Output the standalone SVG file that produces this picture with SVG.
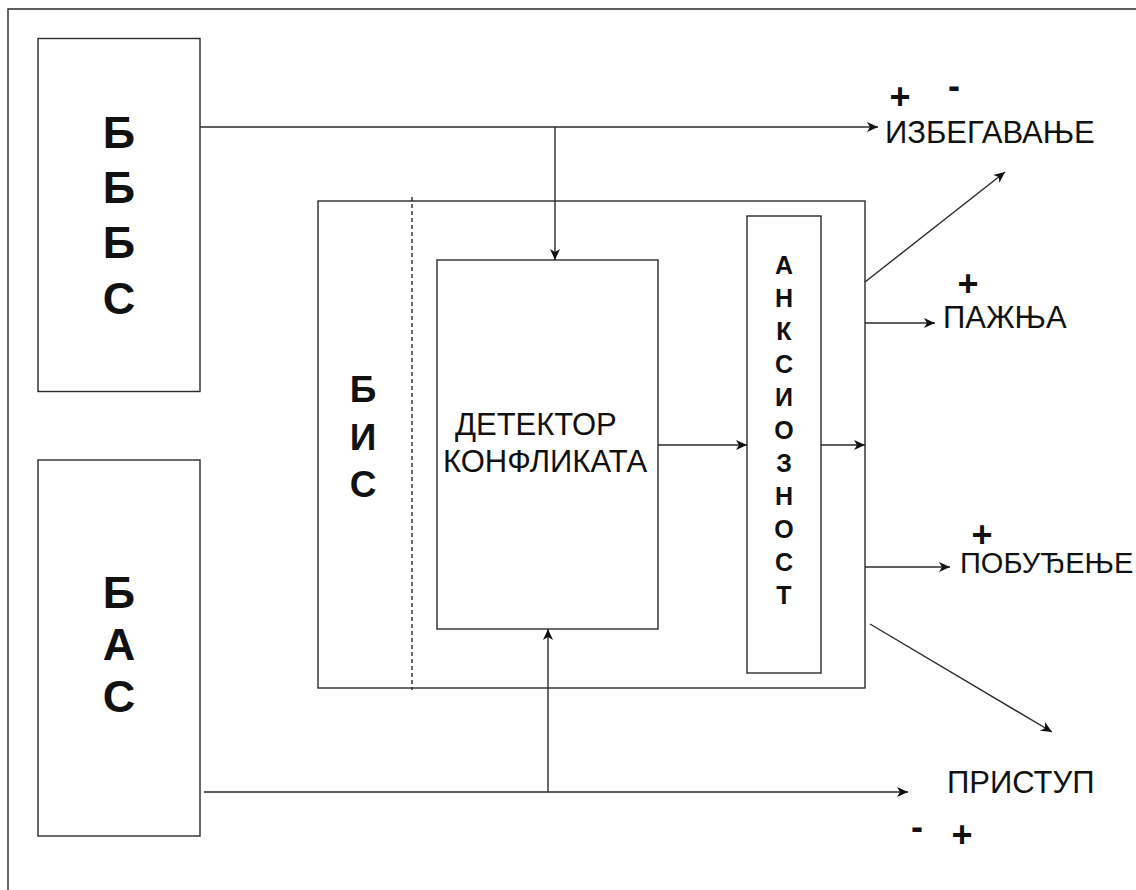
<svg xmlns="http://www.w3.org/2000/svg" width="1136" height="890" viewBox="0 0 1136 890">
<style>
.box{fill:none;stroke:#2a2a2a;stroke-width:1.4}
.ln{fill:none;stroke:#2a2a2a;stroke-width:1.4}
.arr{marker-end:url(#ah)}
.big{font-family:"Liberation Sans",Arial,sans-serif;font-weight:bold;font-size:45px;fill:#111;text-anchor:middle}
.mid{font-family:"Liberation Sans",Arial,sans-serif;font-weight:bold;font-size:37px;fill:#111;text-anchor:middle}
.vt{font-family:"Liberation Sans",Arial,sans-serif;font-weight:bold;font-size:25px;fill:#111;text-anchor:middle}
.lbl{font-family:"Liberation Sans",Arial,sans-serif;font-size:31px;fill:#111}
.det{font-family:"Liberation Sans",Arial,sans-serif;font-size:31px;fill:#111}
.sg{font-family:"Liberation Sans",Arial,sans-serif;font-weight:bold;font-size:36px;fill:#111;text-anchor:middle}
</style>
<defs>
<marker id="ah" markerWidth="12" markerHeight="10" refX="11" refY="5" orient="auto" markerUnits="userSpaceOnUse">
<path d="M0,0 L11,5 L0,10 L3,5 Z" fill="#111"/>
</marker>
</defs>
<rect width="1136" height="890" fill="#fff"/>
<g id="frame"><path class="ln" d="M8,900 L8,9 L1140,9"/></g>
<g id="bbs">
<rect class="box" x="38" y="38.5" width="162" height="353"/>
<text class="big" x="119" y="148">Б</text>
<text class="big" x="119" y="203">Б</text>
<text class="big" x="119" y="258">Б</text>
<text class="big" x="119" y="314">С</text>
</g>
<g id="bas">
<rect class="box" x="38" y="460" width="162" height="376"/>
<text class="big" x="119" y="608">Б</text>
<text class="big" x="119" y="660">А</text>
<text class="big" x="119" y="712">С</text>
</g>
<g id="bis">
<rect class="box" x="318" y="201" width="547" height="487"/>
<line class="ln" x1="412" y1="197" x2="412" y2="690" stroke-dasharray="4,3"/>
<text class="mid" x="363" y="402">Б</text>
<text class="mid" x="363" y="450">И</text>
<text class="mid" x="363" y="497">С</text>
</g>
<g id="detector">
<rect class="box" x="437" y="260" width="221" height="369"/>
<text class="det" x="455" y="435">ДЕТЕКТОР</text>
<text class="det" x="443" y="472">КОНФЛИКАТА</text>
</g>
<g id="anxiety">
<rect class="box" x="747" y="216" width="74" height="457"/>
<text class="vt" x="784" y="274">А</text>
<text class="vt" x="784" y="307">Н</text>
<text class="vt" x="784" y="340">К</text>
<text class="vt" x="784" y="373">С</text>
<text class="vt" x="784" y="406">И</text>
<text class="vt" x="784" y="439">О</text>
<text class="vt" x="784" y="472">З</text>
<text class="vt" x="784" y="505">Н</text>
<text class="vt" x="784" y="538">О</text>
<text class="vt" x="784" y="571">С</text>
<text class="vt" x="784" y="604">Т</text>
</g>
<g id="labels">
<text class="lbl" x="885" y="143">ИЗБЕГАВАЊЕ</text>
<text class="sg" x="900" y="109">+</text>
<text class="sg" x="954" y="98">-</text>
<text class="lbl" x="943" y="328">ПАЖЊА</text>
<text class="sg" x="968" y="296">+</text>
<text class="lbl" x="960" y="573" style="font-size:29px">ПОБУЂЕЊЕ</text>
<text class="sg" x="982" y="547">+</text>
<text class="lbl" x="947" y="793">ПРИСТУП</text>
<text class="sg" x="917" y="839">-</text>
<text class="sg" x="962" y="847">+</text>
</g>
<g id="connectors">
<line class="ln arr" x1="200" y1="127" x2="878" y2="127"/>
<line class="ln arr" x1="555" y1="127" x2="555" y2="260"/>
<line class="ln arr" x1="204" y1="792" x2="908" y2="792"/>
<line class="ln arr" x1="548" y1="792" x2="548" y2="629"/>
<line class="ln arr" x1="658" y1="445" x2="747" y2="445"/>
<line class="ln arr" x1="821" y1="445" x2="865" y2="445"/>
<line class="ln arr" x1="865" y1="282" x2="1005" y2="172"/>
<line class="ln arr" x1="865" y1="323" x2="935" y2="323"/>
<line class="ln arr" x1="865" y1="567" x2="950" y2="567"/>
<line class="ln arr" x1="870" y1="624" x2="1052" y2="732"/>
</g>
</svg>
